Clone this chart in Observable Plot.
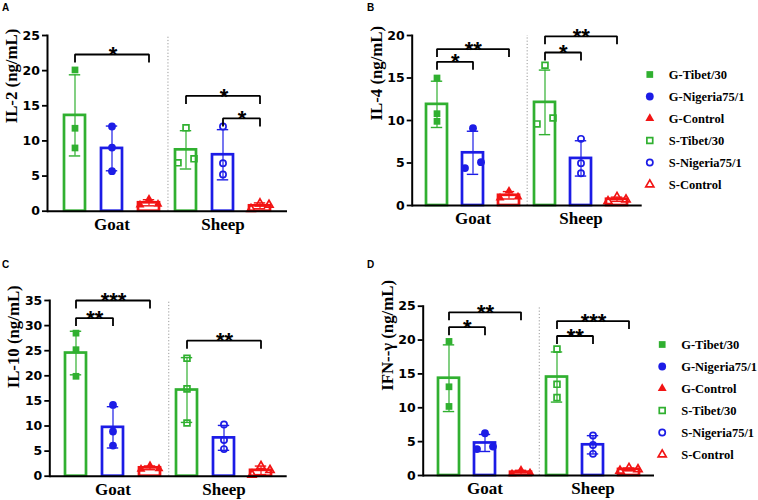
<!DOCTYPE html>
<html><head><meta charset="utf-8">
<script src="https://cdn.jsdelivr.net/npm/d3@7"></script>
<script src="https://cdn.jsdelivr.net/npm/@observablehq/plot@0.6"></script>
<style>
body{margin:0;background:#fff}
#fig{position:relative;width:758px;height:500px;overflow:hidden;background:#fff}
#fig svg{position:absolute}
.letter{position:absolute;font:bold 10px "Liberation Sans",Arial,sans-serif;color:#000}
</style></head><body><div id="fig"></div>
<script>
// ---- data ----
const groups = ["G-Tibet/30","G-Nigeria75/1","G-Control","S-Tibet/30","S-Nigeria75/1","S-Control"];
const species = ["Goat","Sheep"];
const speciesCenter = ["G-Nigeria75/1","S-Nigeria75/1"];
// replicate values (ng/mL), one triple per group
const il2  = [[20.1,11.8,9.0],[12.05,9.06,5.69],[1.7,0.9,1.0],[11.86,6.88,7.45],[12.05,6.83,5.22],[0.3,1.1,0.9]];
const il4  = [[15.0,10.8,9.9],[9.1,4.4,5.1],[1.7,1.0,0.9],[16.5,9.6,10.3],[7.84,4.98,3.8],[0.5,1.0,0.7]];
const il10 = [[28.5,25.2,19.9],[14.2,8.9,6.1],[1.4,2.1,1.5],[23.5,17.4,10.6],[10.3,7.2,5.4],[0.3,2.0,1.2]];
const ifng = [[19.8,13.1,10.2],[6.24,3.9,4.27],[0.25,0.8,0.4],[18.66,13.46,11.5],[5.9,4.5,3.2],[0.7,1.1,0.9]];
// significance brackets: [from, to, level, stars]
const il2Sig  = [["G-Tibet/30","G-Control",22.3,"*"],["S-Tibet/30","S-Control",16.4,"*"],["S-Nigeria75/1","S-Control",13.2,"*"]];
const il4Sig  = [["G-Tibet/30","G-Control",18.4,"**"],["G-Tibet/30","G-Nigeria75/1",16.9,"*"],["S-Tibet/30","S-Control",19.9,"**"],["S-Tibet/30","S-Nigeria75/1",18.0,"*"]];
const il10Sig = [["G-Tibet/30","G-Control",35.0,"***"],["G-Tibet/30","G-Nigeria75/1",31.5,"**"],["S-Tibet/30","S-Control",27.0,"**"]];
const ifngSig = [["G-Tibet/30","G-Control",24.1,"**"],["G-Tibet/30","G-Nigeria75/1",21.9,"*"],["S-Tibet/30","S-Control",22.8,"***"],["S-Tibet/30","S-Nigeria75/1",20.6,"**"]];
const yMaxes = [25, 20, 35, 25];
const yLabels = ["IL-2 (ng/mL)","IL-4 (ng/mL)","IL-10 (ng/mL)","IFN--γ (ng/mL)"];
const panelIds = ["A","B","C","D"];

// ---- styles ----
const colors  = ["#30b030","#1c1ce6","#f21414","#30b030","#1c1ce6","#f21414"];
const symbols = ["square","circle","triangle","square","circle","triangle"];
const filled  = [true,true,true,false,false,false];
const radii   = [3.8,3.9,3.3,3.3,3.1,3.0];

const layouts = [
  {left:0,   top:0,   width:300, height:250, ml:47,   mr:13,  mt:35,   mb:39.3},
  {left:360, top:0,   width:290, height:250, ml:51.7, mr:8.3, mt:35,   mb:45},
  {left:0,   top:250, width:300, height:250, ml:49.3, mr:13.3,mt:50,   mb:24.3},
  {left:360, top:250, width:300, height:250, ml:62.7, mr:6,   mt:55.7, mb:25}
];
const pI = 0.43, pO = 0.38;
const fig = document.getElementById("fig");

function dotStyle(i) {
  return filled[i]
    ? {symbol: symbols[i], r: radii[i], fill: colors[i], stroke: "none"}
    : {symbol: symbols[i], r: radii[i], fill: "none", stroke: colors[i], strokeWidth: 1.7};
}

function offsetsFor(vals, k) {
  // spread replicates that would overlap (GraphPad-style scatter)
  const order = vals.map((v,i)=>i).sort((a,b)=>vals[a]-vals[b]);
  const off = vals.map(()=>0);
  let clusters = [[order[0]]];
  for (let j=1;j<order.length;j++){
    const prev = order[j-1], cur = order[j];
    if ((vals[cur]-vals[prev])*k < 6.8) clusters[clusters.length-1].push(cur);
    else clusters.push([cur]);
  }
  for (const c of clusters) {
    if (c.length===2){ off[c[0]] = -8; off[c[1]] = 8; }
    if (c.length===3){ off[c[0]] = -9; off[c[1]] = 9; off[c[2]] = 0; }
  }
  return off;
}

function panel(p) {
  const values = [il2, il4, il10, ifng][p];
  const sig = [il2Sig, il4Sig, il10Sig, ifngSig][p];
  const ymax = yMaxes[p];
  const L = layouts[p];
  const step = (L.width - L.ml - L.mr) / (groups.length - pI + 2*pO);
  const k = (L.height - L.mt - L.mb) / ymax;
  const summary = groups.map((g,i)=>({group:g, i, mean:d3.mean(values[i]), sd:d3.deviation(values[i])}));
  summary.forEach(s=>{s.lo = s.mean - s.sd; s.hi = s.mean + s.sd;});
  const marks = [];
  marks.push(Plot.ruleX(["G-Control"], {x:d=>d, dx: step/2, y1:0, y2:ymax, stroke:"#9a9a9a", strokeWidth:1, strokeDasharray:"1.2,2"}));
  groups.forEach((g,i)=>{
    const s = [summary[i]];
    marks.push(Plot.barY(s, {x:"group", y:"mean", fill:"white", stroke:colors[i], strokeWidth:2.7}));
  });
  groups.forEach((g,i)=>{
    const s = [summary[i]];
    marks.push(Plot.ruleX(s, {x:"group", y1:"lo", y2:"hi", stroke:colors[i], strokeWidth:1.2}));
    marks.push(Plot.tickY(s, {x:"group", y:"hi", stroke:colors[i], strokeWidth:1.4, insetLeft:4.8, insetRight:4.8}));
    marks.push(Plot.tickY(s, {x:"group", y:"lo", stroke:colors[i], strokeWidth:1.4, insetLeft:4.8, insetRight:4.8}));
  });
  groups.forEach((g,i)=>{
    const off = offsetsFor(values[i], k);
    const pts = values[i].map((v,j)=>({group:g, value:v, off:off[j]}));
    for (const o of [...new Set(off)]) {
      marks.push(Plot.dot(pts.filter(d=>d.off===o), {x:"group", y:"value", dx:o, ...dotStyle(i)}));
    }
  });
  const tick = 8 / k;
  sig.forEach(([from,to,level,stars],n)=>{
    const path = [{x:from,y:level-tick},{x:from,y:level},{x:to,y:level},{x:to,y:level-tick}];
    marks.push(Plot.line(path, {x:"x", y:"y", stroke:"black", strokeWidth:1.8, strokeLinejoin:"miter", strokeLinecap:"butt"}));
    const span = groups.indexOf(to) - groups.indexOf(from);
    marks.push(Plot.text([{from, level, stars}], {x:"from", y:"level", text:"stars", dx: span*step/2, dy: 7.6, lineAnchor:"bottom",
      fontFamily:"Liberation Sans, Arial, sans-serif", fontSize:22, fontWeight:"bold", fill:"black"}));
  });
  marks.push(Plot.ruleY([0], {stroke:"black", strokeWidth:2}));
  marks.push(Plot.frame({anchor:"left", stroke:"black", strokeWidth:2}));
  marks.push(Plot.axisY({ticks: d3.range(0, ymax + 0.001, 5), tickSize:5, tickPadding:2.5, strokeWidth:1.8, label:null,
    fontFamily:"DejaVu Sans, sans-serif", fontSize:12.5, fontWeight:"bold", fill:"black"}));
  marks.push(Plot.text([yLabels[p]], {text:d=>d, frameAnchor:"left", dx:-36, rotate:-90,
    fontFamily:"Liberation Serif, Times New Roman, serif", fontSize:16.8, fontWeight:"bold", fill:"black"}));
  marks.push(Plot.text(species, {x:(d,i)=>speciesCenter[i], text:d=>d, frameAnchor:"bottom", lineAnchor:"bottom", dy:18.5,
    fontFamily:"Liberation Serif, Times New Roman, serif", fontSize:17, fontWeight:"bold", fill:"black"}));

  const svg = Plot.plot({
    width: L.width, height: L.height,
    marginLeft: L.ml, marginRight: L.mr, marginTop: L.mt, marginBottom: L.mb,
    style: {background:"none", overflow:"visible", color:"black"},
    x: {type:"band", domain: groups, paddingInner: pI, paddingOuter: pO, axis: null},
    y: {domain: [0, ymax], axis: null},
    marks
  });
  svg.style.left = L.left + "px";
  svg.style.top = L.top + "px";
  fig.appendChild(svg);

  const letter = document.createElement("div");
  letter.className = "letter";
  letter.textContent = panelIds[p];
  letter.style.left = [2, 367, 2, 367][p] + "px";
  letter.style.top = [2, 2, 259, 259][p] + "px";
  fig.appendChild(letter);
}

function legend(left, top, ml) {
  const marks = groups.map((g,i)=>Plot.dot([g], {y:d=>d, frameAnchor:"left", ...dotStyle(i)}));
  marks.push(Plot.text(groups, {y:d=>d, text:d=>d, frameAnchor:"left", dx:19, textAnchor:"start",
    fontFamily:"Liberation Serif, Times New Roman, serif", fontSize:12.5, fontWeight:"bold", fill:"black"}));
  const svg = Plot.plot({
    width: 118, height: 136, marginLeft: ml, marginRight: 0, marginTop: 11.7, marginBottom: 10,
    style: {background:"none", overflow:"visible"},
    x: {axis:null},
    y: {type:"point", domain: groups, padding: 0, axis: null},
    marks
  });
  svg.style.left = left + "px";
  svg.style.top = top + "px";
  fig.appendChild(svg);
}

[0,1,2,3].forEach(panel);
legend(640, 60, 9.3);
legend(640, 330, 21.7);
</script></body></html>
